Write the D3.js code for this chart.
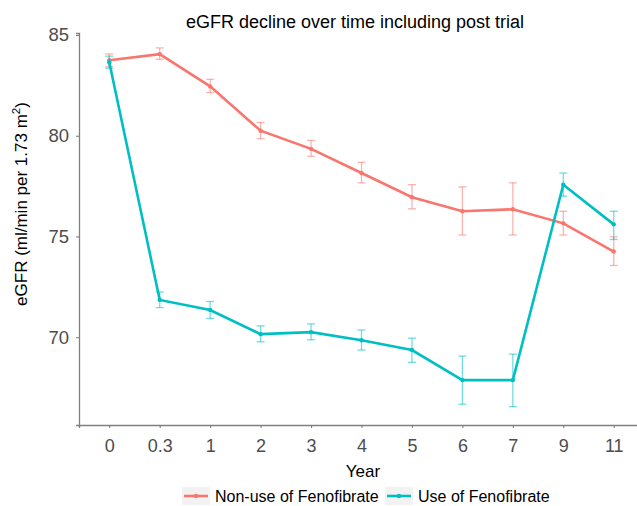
<!DOCTYPE html>
<html>
<head>
<meta charset="utf-8">
<script src="https://cdn.jsdelivr.net/npm/d3@7"></script>
<style>
  body { margin: 0; background: #fff; }
  text { font-family: "Liberation Sans", Arial, sans-serif; }
</style>
</head>
<body>
<div id="chart"></div>
<script>
// data
let years = ['0', '0.3', '1', '2', '3', '4', '5', '6', '7', '9', '11'];
let seriesNames = ['Non-use of Fenofibrate', 'Use of Fenofibrate'];
let seriesColors = ['#F8766D', '#00BFC4'];
let nonUseMean = [83.75, 84.05, 82.45, 80.25, 79.35, 78.15, 76.95, 76.25, 76.35, 75.65, 74.25];
let nonUseLow  = [83.43, 83.8, 82.14, 79.85, 78.98, 77.66, 76.37, 75.07, 75.07, 75.07, 73.56];
let nonUseHigh = [84.06, 84.36, 82.8, 80.66, 79.77, 78.68, 77.57, 77.46, 77.66, 76.25, 74.98];
let useMean = [83.65, 71.85, 71.35, 70.15, 70.25, 69.85, 69.36, 67.87, 67.87, 77.57, 75.6];
let useLow  = [83.35, 71.47, 70.93, 69.77, 69.87, 69.36, 68.75, 66.67, 66.55, 77.0, 74.85];
let useHigh = [83.95, 72.24, 71.77, 70.56, 70.66, 70.36, 69.95, 69.06, 69.16, 78.15, 76.25];
let yTicks = [70, 75, 80, 85];

let width = 637, height = 506;
let svg = d3.select('#chart').append('svg')
    .attr('width', width)
    .attr('height', height);

let x = d3.scalePoint()
    .domain(years)
    .range([79, 644])
    .padding(0.6);

let y = d3.scaleLinear()
    .domain([65.64, 85.1])
    .range([425, 33]);

// axes
let xAxis = svg.append('g')
    .attr('transform', 'translate(0,425)')
    .call(d3.axisBottom(x).tickSize(3).tickPadding(11));
let yAxis = svg.append('g')
    .attr('transform', 'translate(79,0)')
    .call(d3.axisLeft(y).tickValues(yTicks).tickSize(3).tickPadding(7));

[xAxis, yAxis].forEach(function (a) {
    a.select('.domain').attr('stroke', '#7f7f7f').attr('stroke-width', 1.3);
    a.selectAll('.tick line').attr('stroke', '#7f7f7f').attr('stroke-width', 1.1);
    a.selectAll('.tick text')
        .attr('fill', '#4d4d4d')
        .style('font-size', '18px')
        .style('font-family', '"Liberation Sans", Arial, sans-serif');
});
yAxis.selectAll('.tick text').style('font-size', '18.5px');

// series
let series = [
    { mean: nonUseMean, low: nonUseLow, high: nonUseHigh },
    { mean: useMean, low: useLow, high: useHigh }
];

let line = d3.line()
    .x(function (d) { return x(d.year); })
    .y(function (d) { return y(d.v); });

series.forEach(function (s, i) {
    let color = seriesColors[i];
    let pts = years.map(function (yr, j) {
        return { year: yr, v: s.mean[j], lo: s.low[j], hi: s.high[j] };
    });
    let g = svg.append('g');

    // error bars
    let eb = g.selectAll('.eb').data(pts).enter().append('g')
        .attr('stroke', color)
        .attr('stroke-opacity', 0.55)
        .attr('stroke-width', 1.3);
    eb.append('line')
        .attr('x1', function (d) { return x(d.year); })
        .attr('x2', function (d) { return x(d.year); })
        .attr('y1', function (d) { return y(d.lo); })
        .attr('y2', function (d) { return y(d.hi); });
    eb.append('line')
        .attr('x1', function (d) { return x(d.year) - 4; })
        .attr('x2', function (d) { return x(d.year) + 4; })
        .attr('y1', function (d) { return y(d.lo); })
        .attr('y2', function (d) { return y(d.lo); });
    eb.append('line')
        .attr('x1', function (d) { return x(d.year) - 4; })
        .attr('x2', function (d) { return x(d.year) + 4; })
        .attr('y1', function (d) { return y(d.hi); })
        .attr('y2', function (d) { return y(d.hi); });

    g.append('path')
        .datum(pts)
        .attr('d', line)
        .attr('fill', 'none')
        .attr('stroke', color)
        .attr('stroke-width', 2.6);

    g.selectAll('circle').data(pts).enter().append('circle')
        .attr('cx', function (d) { return x(d.year); })
        .attr('cy', function (d) { return y(d.v); })
        .attr('r', 2.2)
        .attr('fill', color);
});

// titles
svg.append('text')
    .attr('x', 355)
    .attr('y', 28)
    .attr('text-anchor', 'middle')
    .style('font-size', '18px')
    .attr('fill', '#000')
    .text('eGFR decline over time including post trial');

svg.append('text')
    .attr('x', 363)
    .attr('y', 477)
    .attr('text-anchor', 'middle')
    .style('font-size', '17px')
    .attr('fill', '#000')
    .text('Year');

let yLabel = svg.append('text')
    .attr('transform', 'translate(27,204) rotate(-90)')
    .attr('text-anchor', 'middle')
    .style('font-size', '17px')
    .attr('fill', '#000');
yLabel.append('tspan').text('eGFR (ml/min per 1.73 m');
yLabel.append('tspan').attr('dy', -7).style('font-size', '11.5px').text('2');
yLabel.append('tspan').attr('dy', 7).text(')');

// legend
let legendX = [182, 385];
seriesNames.forEach(function (name, i) {
    let lg = svg.append('g').attr('transform', 'translate(' + legendX[i] + ',487)');
    lg.append('rect')
        .attr('width', 28).attr('height', 18)
        .attr('fill', '#f2f2f2');
    lg.append('line')
        .attr('x1', 2).attr('x2', 26)
        .attr('y1', 9).attr('y2', 9)
        .attr('stroke', seriesColors[i])
        .attr('stroke-width', 2.6);
    lg.append('circle')
        .attr('cx', 14).attr('cy', 9).attr('r', 2.2)
        .attr('fill', seriesColors[i]);
    lg.append('text')
        .attr('x', 33).attr('y', 15)
        .style('font-size', '16px')
        .attr('fill', '#000')
        .text(name);
});
</script>
</body>
</html>
